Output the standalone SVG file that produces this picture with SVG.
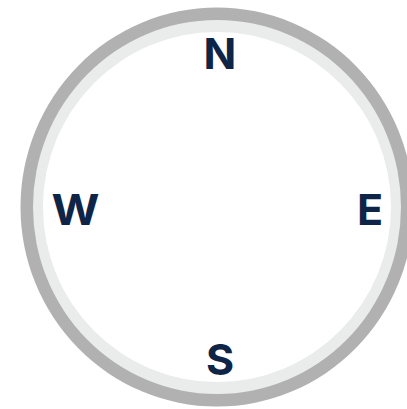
<svg xmlns="http://www.w3.org/2000/svg" width="407" height="409" viewBox="0 0 407 409">
<style>
.lbl{font-family:Inter,"Liberation Sans",sans-serif;font-weight:700;font-size:43px;fill:#0f2548;text-anchor:middle}
</style>
<rect width="407" height="409" fill="#ffffff"/>
<g id="dial">
<ellipse cx="217" cy="207" rx="196.5" ry="199.5" fill="#b1b1b1"/>
<ellipse cx="217" cy="207" rx="184" ry="187" fill="#eaeceb"/>
<ellipse cx="217" cy="207" rx="174" ry="175" fill="#ffffff"/>
</g>
<g id="north"><text class="lbl" x="220" y="69">N</text></g>
<g id="west"><text class="lbl" x="75.5" y="225" textLength="48" lengthAdjust="spacingAndGlyphs">W</text></g>
<g id="east"><text class="lbl" x="370" y="225">E</text></g>
<g id="south"><text class="lbl" x="220" y="375">S</text></g>
<g id="connectors"/>
</svg>
